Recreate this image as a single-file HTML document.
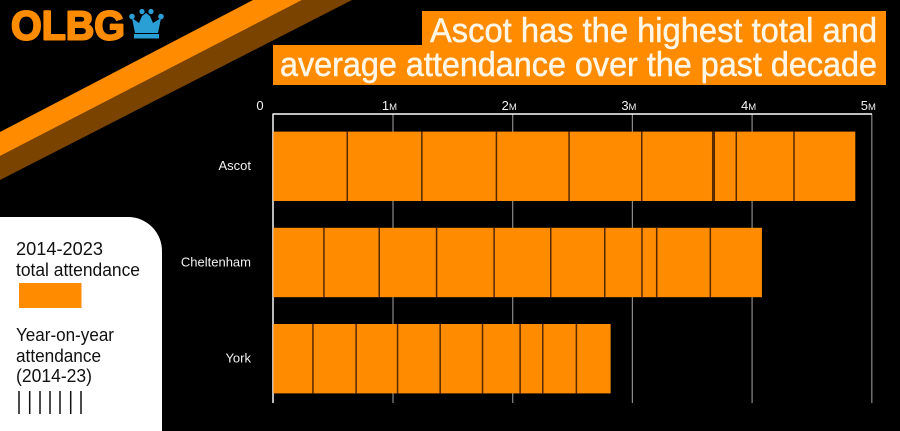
<!DOCTYPE html>
<html>
<head>
<meta charset="utf-8">
<title>Ascot attendance chart</title>
<style>
html,body{margin:0;padding:0;background:#000;width:900px;height:431px;overflow:hidden}
svg{display:block;font-family:"Liberation Sans",sans-serif}
</style>
</head>
<body>
<svg id="chart" width="900" height="431" viewBox="0 0 900 431" xmlns="http://www.w3.org/2000/svg">
  <rect x="0" y="0" width="900" height="431" fill="#000"/>
  <polygon points="0,156 302,0 352,0 0,180" fill="#7a4300"/>
  <polygon points="0,132 253,0 302,0 0,156" fill="#ff8c00"/>

  <text x="11" y="39.5" font-size="41" font-weight="700" fill="#ff8c00" stroke="#ff8c00" stroke-width="2" stroke-linejoin="round" textLength="114" lengthAdjust="spacingAndGlyphs">OLBG</text>
  <g fill="#2a9fd6">
    <polygon points="132,18 139,23 142,16 146,13 150,16 153,23 161,18 158,33 135,33"/>
    <circle cx="132" cy="16.5" r="2.8"/>
    <circle cx="142" cy="11.5" r="2.6"/>
    <circle cx="151" cy="11.5" r="2.6"/>
    <circle cx="161" cy="16.5" r="2.8"/>
    <rect x="134" y="34" width="25" height="4.5"/>
  </g>

  <polygon points="422,11 886,11 886,85 273,85 273,45 422,45" fill="#ff8c00"/>
  <text x="430" y="42" font-size="34" fill="#fff6e6" stroke="#fff6e6" stroke-width="0.5" textLength="447" lengthAdjust="spacingAndGlyphs">Ascot has the highest total and</text>
  <text x="280" y="76" font-size="34" fill="#fff6e6" stroke="#fff6e6" stroke-width="0.5" textLength="597" lengthAdjust="spacingAndGlyphs">average attendance over the past decade</text>

  <g id="grid"></g>
  <g id="ticks"></g>
  <line x1="272.5" y1="114" x2="872" y2="114" stroke="#fff" stroke-width="1.5"/>
  <line x1="273" y1="114" x2="273" y2="403" stroke="#e8e8e8" stroke-width="1.6"/>
  <g id="bars"></g>
  <g id="cats"></g>

  <path d="M0,217 H128 A34,34 0 0 1 162,251 V431 H0 Z" fill="#fff"/>
  <text x="16" y="255" font-size="18" fill="#111" textLength="87" lengthAdjust="spacingAndGlyphs">2014-2023</text>
  <text x="16" y="276" font-size="18" fill="#111" textLength="124" lengthAdjust="spacingAndGlyphs">total attendance</text>
  <rect x="19" y="283" width="62.5" height="25" fill="#ff8c00"/>
  <text x="16" y="341" font-size="18" fill="#111" textLength="98" lengthAdjust="spacingAndGlyphs">Year-on-year</text>
  <text x="16" y="362" font-size="18" fill="#111" textLength="85" lengthAdjust="spacingAndGlyphs">attendance</text>
  <text x="16" y="382" font-size="18" fill="#111" textLength="76" lengthAdjust="spacingAndGlyphs">(2014-23)</text>
  <g stroke="#111" stroke-width="1.5">
    <line x1="19" y1="391" x2="19" y2="414"/>
    <line x1="29.7" y1="391" x2="29.7" y2="414"/>
    <line x1="40" y1="391" x2="40" y2="414"/>
    <line x1="50" y1="391" x2="50" y2="414"/>
    <line x1="60" y1="391" x2="60" y2="414"/>
    <line x1="70.7" y1="391" x2="70.7" y2="414"/>
    <line x1="81" y1="391" x2="81" y2="414"/>
  </g>
</svg>
<script>
var categories = ["Ascot", "Cheltenham", "York"];
var ascotValues = [0.618, 0.623, 0.623, 0.607, 0.607, 0.593, 0.013, 0.184, 0.482, 0.512];
var cheltenhamValues = [0.423, 0.462, 0.479, 0.481, 0.473, 0.451, 0.311, 0.123, 0.448, 0.431];
var yorkValues = [0.331, 0.361, 0.346, 0.356, 0.354, 0.314, 0.189, 0.281, 0.286];
var tickValues = [1, 2, 3, 4, 5];
var tickLabels = ["1", "2", "3", "4", "5"];

var NS = "http://www.w3.org/2000/svg";
var seriesList = [ascotValues, cheltenhamValues, yorkValues];

function xScale(v) { return 273.3 + v * 119.7; }
function bandTop(i) { return 131.6 + i * 96.2; }
var bandHeight = 69.4;

function make(tag, attrs, parent) {
  var el = document.createElementNS(NS, tag);
  for (var k in attrs) { el.setAttribute(k, attrs[k]); }
  parent.appendChild(el);
  return el;
}

var grid = document.getElementById("grid");
var ticks = document.getElementById("ticks");
var bars = document.getElementById("bars");
var cats = document.getElementById("cats");

tickValues.forEach(function (v, i) {
  var line = make("line", {x1: xScale(v), x2: xScale(v), y1: 114, y2: 403, stroke: "#8a8a8a", "stroke-width": 1.2}, grid);
  
  
  var t = make("text", {x: xScale(v) - 3.5, y: 110, "text-anchor": "middle", "font-size": 13, fill: "#f2f2f2"}, ticks);
  
  
  t.textContent = tickLabels[i];
  var m = make("tspan", {"font-size": 9.5}, t);
  m.textContent = "M";
});

var zeroLabel = make("text", {x: 260, y: 110, "text-anchor": "middle", "font-size": 13, fill: "#f2f2f2"}, ticks);


zeroLabel.textContent = "0";

categories.forEach(function (name, i) {
  var label = make("text", {x: 251, y: bandTop(i) + 38.6, "text-anchor": "end", "font-size": 13, fill: "#f2f2f2"}, cats);
  
  
  label.textContent = name;

  var values = seriesList[i];
  var total = 0;
  values.forEach(function (v) { total += v; });

  var bar = make("rect", {x: xScale(0), y: bandTop(i), width: xScale(total) - xScale(0), height: bandHeight, fill: "#ff8c00"}, bars);
  
  

  var running = 0;
  values.forEach(function (v, j) {
    running += v;
    if (j < values.length - 1) {
      var sep = make("line", {x1: xScale(running), x2: xScale(running), y1: bandTop(i), y2: bandTop(i) + bandHeight, stroke: "#552800", "stroke-width": 1.5}, bars);
      
      
    }
  });
});
</script>
</body>
</html>
